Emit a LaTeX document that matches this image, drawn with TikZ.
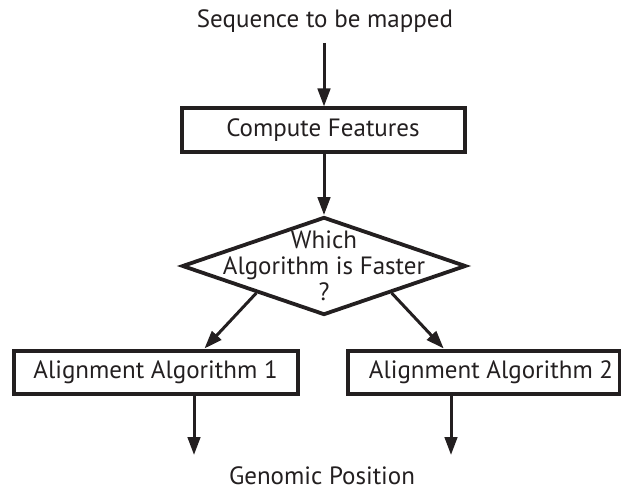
\documentclass[tikz,border=0pt]{standalone}
\usepackage{fontspec}
\setmainfont{PT Sans}
\usetikzlibrary{shapes.geometric,arrows.meta,calc}
\definecolor{ink}{HTML}{231F20}
\begin{document}
\begin{tikzpicture}[x=1pt,y=-1pt,
  lbl/.style={font=\fontsize{25}{26}\selectfont,text=ink,inner sep=0pt},
  box/.style={draw=ink,line width=4pt,inner sep=0pt,lbl},
  decision/.style={draw=ink,diamond,line width=3.8pt,inner sep=0pt},
  conn/.style={draw=ink,line width=3pt,-{Triangle[length=18pt,width=12.5pt]}}]
\useasboundingbox (0,0) rectangle (621,489);
\node[lbl] (title) at (325,21) {Sequence to be mapped};
\coordinate (s0) at (324,43);
\node[box,minimum width=283pt,minimum height=44pt] (cf) at (323,130.5) {Compute Features};
\node[decision,minimum width=284pt,minimum height=98pt] (dec) at (324,266) {};
\node[lbl,align=center] (dect) at (dec.center) {Which\\Algorithm is Faster\\?};
\node[box,minimum width=284pt,minimum height=43pt] (a1) at (155.5,372) {Alignment Algorithm 1};
\node[box,minimum width=272pt,minimum height=43pt] (a2) at (484,372) {\hspace*{14pt}Alignment Algorithm 2};
\coordinate (g1) at (194,455);
\coordinate (g2) at (451,455);
\node[lbl] (gp) at (322,476) {Genomic Position};
\draw[conn] (s0) -- (s0 |- cf.north);
\draw[conn] (dec.north |- cf.south) -- (dec.north);
\draw[conn] ($(dec.west)!0.53!(dec.south)$) -- ($(a1.north west)!0.67!(a1.north east)$);
\draw[conn] ($(dec.east)!0.53!(dec.south)$) -- ($(a2.north west)!0.354!(a2.north east)$);
\draw[conn] (g1 |- a1.south) -- (g1);
\draw[conn] (g2 |- a2.south) -- (g2);
\end{tikzpicture}
\end{document}
